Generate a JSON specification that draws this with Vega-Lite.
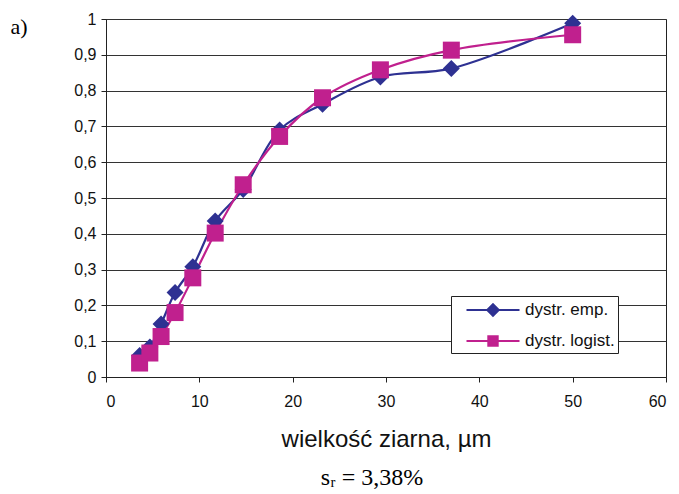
{
  "$schema": "https://vega.github.io/schema/vega-lite/v6.json",
  "width": 560,
  "height": 358,
  "autosize": {"type": "none"},
  "padding": {"left": 106, "top": 19, "right": 13, "bottom": 117},
  "background": "white",
  "config": {
    "font": "Liberation Sans",
    "view": {"stroke": "#222", "strokeWidth": 1}
  },
  "title": {
    "text": "sᵣ = 3,38%",
    "orient": "bottom",
    "font": "Liberation Serif",
    "fontSize": 24,
    "fontWeight": "normal",
    "color": "black",
    "offset": 15,
    "dx": -14
  },
  "data": {
    "values": [
      {"d": 3.6, "p": 0.06, "series": "dystr. emp."},
      {"d": 4.7, "p": 0.084, "series": "dystr. emp."},
      {"d": 5.9, "p": 0.148, "series": "dystr. emp."},
      {"d": 7.4, "p": 0.236, "series": "dystr. emp."},
      {"d": 9.3, "p": 0.308, "series": "dystr. emp."},
      {"d": 11.7, "p": 0.436, "series": "dystr. emp."},
      {"d": 14.7, "p": 0.524, "series": "dystr. emp."},
      {"d": 18.6, "p": 0.69, "series": "dystr. emp."},
      {"d": 23.2, "p": 0.762, "series": "dystr. emp."},
      {"d": 29.4, "p": 0.838, "series": "dystr. emp."},
      {"d": 37.0, "p": 0.862, "series": "dystr. emp."},
      {"d": 50.0, "p": 0.988, "series": "dystr. emp."},
      {"d": 3.6, "p": 0.039, "series": "dystr. logist."},
      {"d": 4.7, "p": 0.067, "series": "dystr. logist."},
      {"d": 5.9, "p": 0.113, "series": "dystr. logist."},
      {"d": 7.4, "p": 0.18, "series": "dystr. logist."},
      {"d": 9.3, "p": 0.277, "series": "dystr. logist."},
      {"d": 11.7, "p": 0.402, "series": "dystr. logist."},
      {"d": 14.7, "p": 0.537, "series": "dystr. logist."},
      {"d": 18.6, "p": 0.672, "series": "dystr. logist."},
      {"d": 23.2, "p": 0.78, "series": "dystr. logist."},
      {"d": 29.4, "p": 0.858, "series": "dystr. logist."},
      {"d": 37.0, "p": 0.913, "series": "dystr. logist."},
      {"d": 50.0, "p": 0.956, "series": "dystr. logist."}
    ]
  },
  "encoding": {
    "x": {
      "field": "d",
      "type": "quantitative",
      "scale": {"domain": [0, 60], "nice": false},
      "axis": {
        "title": "wielkość ziarna, µm",
        "values": [0, 10, 20, 30, 40, 50, 60],
        "grid": false,
        "tickSize": 5,
        "domainColor": "#222",
        "tickColor": "#222",
        "labelColor": "#111",
        "labelFontSize": 16,
        "labelPadding": 11,
        "titleFontSize": 24,
        "titleFontWeight": "normal",
        "titleColor": "#111",
        "titlePadding": 18
      }
    },
    "y": {
      "field": "p",
      "type": "quantitative",
      "scale": {"domain": [0, 1], "nice": false},
      "axis": {
        "title": "a)",
        "titleAngle": 0,
        "titleFont": "Liberation Serif",
        "titleFontSize": 22,
        "titleFontWeight": "normal",
        "titleColor": "black",
        "titleAlign": "left",
        "titleBaseline": "middle",
        "titleX": -96,
        "titleY": 7,
        "values": [0, 0.1, 0.2, 0.3, 0.4, 0.5, 0.6, 0.7, 0.8, 0.9, 1],
        "labelExpr": "replace(format(datum.value, '.1~f'), '.', ',')",
        "grid": true,
        "gridColor": "#333",
        "gridWidth": 1,
        "tickSize": 5,
        "domainColor": "#222",
        "tickColor": "#222",
        "labelColor": "#111",
        "labelFontSize": 16,
        "labelPadding": 5
      }
    }
  },
  "layer": [
    {
      "mark": {"type": "line", "interpolate": "catmull-rom", "strokeWidth": 2.2},
      "encoding": {
        "color": {
          "field": "series",
          "type": "nominal",
          "scale": {"domain": ["dystr. emp.", "dystr. logist."], "range": ["#2E3192", "#C0208E"]},
          "legend": {
            "title": null,
            "orient": "none",
            "legendX": 345,
            "legendY": 277,
            "strokeColor": "#222",
            "fillColor": "white",
            "padding": 3,
            "rowPadding": 10,
            "symbolSize": 400,
            "symbolOffset": 28,
            "symbolStrokeWidth": 2,
            "labelOffset": 21,
            "labelFontSize": 17,
            "labelColor": "#111",
            "encode": {
              "symbols": {
                "update": {
                  "shape": {"signal": "datum.value === 'dystr. emp.' ? 'M-2.65,0H2.65M0,-0.58L0.58,0L0,0.58L-0.58,0Z' : 'M-2.65,0H2.65M-0.47,-0.47H0.47V0.47H-0.47Z'"},
                  "fill": {"scale": "color", "field": "value"},
                  "stroke": {"scale": "color", "field": "value"}
                }
              }
            }
          }
        }
      }
    },
    {
      "transform": [{"filter": "datum.series === 'dystr. emp.'"}],
      "mark": {"type": "point", "shape": "diamond", "filled": true, "size": 289, "opacity": 1, "color": "#2E3192"}
    },
    {
      "transform": [{"filter": "datum.series === 'dystr. logist.'"}],
      "mark": {"type": "point", "shape": "square", "filled": true, "size": 289, "opacity": 1, "color": "#C0208E"}
    }
  ]
}
